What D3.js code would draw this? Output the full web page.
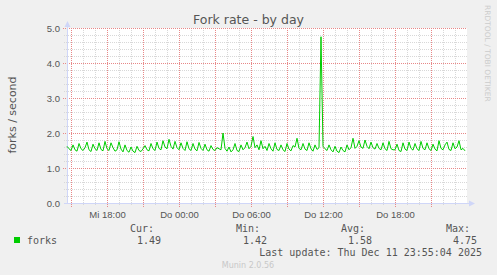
<!DOCTYPE html>
<html>
<head>
<meta charset="utf-8">
<script src="https://cdn.jsdelivr.net/npm/d3@7"></script>
<style>
  body { margin: 0; background: #f0f0f0; }
  svg { display: block; font-family: "DejaVu Sans", sans-serif; }
  .mono { font-family: "DejaVu Sans Mono", monospace; }
</style>
</head>
<body>
<div id="chart"></div>
<script>
// fork rate samples, one every 10 minutes starting Mi 14:40
const forks = [
  1.62, 1.55, 1.50, 1.66, 1.52, 1.48, 1.70, 1.55, 1.50, 1.58, 1.74, 1.52, 1.47, 1.68, 1.55, 1.50, 1.72, 1.53, 1.49, 1.76,
  1.55, 1.50, 1.72, 1.58, 1.48, 1.52, 1.75, 1.54, 1.46, 1.66, 1.50, 1.45, 1.60, 1.48, 1.44, 1.62, 1.50, 1.47, 1.55, 1.64,
  1.52, 1.49, 1.70, 1.55, 1.50, 1.74, 1.56, 1.52, 1.78, 1.60, 1.55, 1.82, 1.62, 1.54, 1.76, 1.58, 1.52, 1.72, 1.56, 1.50,
  1.75, 1.55, 1.50, 1.70, 1.54, 1.49, 1.73, 1.56, 1.50, 1.68, 1.52, 1.48, 1.64, 1.53, 1.50, 1.58, 1.55, 1.52, 2.00, 1.56,
  1.48, 1.60, 1.46, 1.52, 1.70, 1.50, 1.47, 1.66, 1.52, 1.58, 1.74, 1.55, 1.62, 1.90, 1.58, 1.66, 1.52, 1.78, 1.55, 1.62,
  1.50, 1.70, 1.55, 1.48, 1.72, 1.53, 1.50, 1.66, 1.52, 1.47, 1.70, 1.54, 1.49, 1.64, 1.60, 1.85, 1.56, 1.52, 1.70, 1.54,
  1.50, 1.72, 1.55, 1.48, 1.66, 1.53, 1.58, 4.75, 1.62, 1.55, 1.50, 1.66, 1.52, 1.46, 1.62, 1.48, 1.44, 1.60, 1.50, 1.46,
  1.66, 1.52, 1.58, 1.85, 1.56, 1.62, 1.78, 1.60, 1.56, 1.80, 1.62, 1.55, 1.74, 1.58, 1.54, 1.70, 1.56, 1.52, 1.72, 1.55,
  1.50, 1.76, 1.55, 1.52, 1.52, 1.68, 1.50, 1.47, 1.72, 1.54, 1.50, 1.74, 1.56, 1.51, 1.70, 1.55, 1.50, 1.76, 1.56, 1.52,
  1.72, 1.55, 1.50, 1.68, 1.54, 1.49, 1.78, 1.56, 1.52, 1.66, 1.74, 1.53, 1.50, 1.72, 1.55, 1.60, 1.78, 1.52, 1.56, 1.49
]
const yTicks = [0, 1, 2, 3, 4, 5]
const dayNames = ['So', 'Mo', 'Di', 'Mi', 'Do', 'Fr', 'Sa']
const legendHeads = ['Cur:', 'Min:', 'Avg:', 'Max:']
const legendValues = ['1.49', '1.42', '1.58', '4.75']
const lastUpdate = 'Last update: Thu Dec 11 23:55:04 2025'

const W = 497, H = 275
const start = new Date(Date.UTC(2025, 11, 10, 14, 40))
const end = new Date(Date.UTC(2025, 11, 12, 0, 0))
const step = 10 * 60 * 1000

const x = d3.scaleUtc().domain([start, end]).range([67, 467])
const y = d3.scaleLinear().domain([0, 5]).range([203, 28])

const svg = d3.select('#chart').append('svg')
  .attr('width', W).attr('height', H)

svg.append('rect').attr('width', W).attr('height', H).attr('fill', '#f0f0f0')
svg.append('rect')
  .attr('x', 67).attr('y', 28).attr('width', 400).attr('height', 175)
  .attr('fill', '#fff')

// minor grid
const minorY = d3.range(0, 5.01, 0.2).filter(v => Math.abs(v - Math.round(v)) > 0.01)
const hours = d3.utcHour.every(1).range(start, end)
const grid = svg.append('g').attr('shape-rendering', 'crispEdges')
grid.selectAll('.hm').data(hours.filter(d => d.getUTCHours() % 3 !== 0)).enter().append('line')
  .attr('x1', d => Math.round(x(d)) + 0.5).attr('x2', d => Math.round(x(d)) + 0.5)
  .attr('y1', 28).attr('y2', 206)
  .attr('stroke', '#d8d8d8').attr('stroke-dasharray', '1,1')
grid.selectAll('.vm').data(minorY).enter().append('line')
  .attr('x1', 64).attr('x2', 467)
  .attr('y1', d => Math.round(y(d)) + 0.5).attr('y2', d => Math.round(y(d)) + 0.5)
  .attr('stroke', '#d8d8d8').attr('stroke-dasharray', '1,1')

// major grid
grid.selectAll('.hM').data(hours.filter(d => d.getUTCHours() % 3 === 0)).enter().append('line')
  .attr('x1', d => Math.round(x(d)) + 0.5).attr('x2', d => Math.round(x(d)) + 0.5)
  .attr('y1', 28).attr('y2', 207)
  .attr('stroke', '#e88888').attr('stroke-dasharray', '1,1')
grid.selectAll('.vM').data(yTicks.slice(1)).enter().append('line')
  .attr('x1', 63).attr('x2', 467)
  .attr('y1', d => Math.round(y(d)) + 0.5).attr('y2', d => Math.round(y(d)) + 0.5)
  .attr('stroke', '#e88888').attr('stroke-dasharray', '1,1')

// axes
const xAxis = d3.axisBottom(x)
  .tickValues(d3.utcHour.every(6).range(start, end))
  .tickSize(0).tickPadding(8)
  .tickFormat(d => dayNames[d.getUTCDay()] + ' ' + d3.utcFormat('%H:%M')(d))
svg.append('g').attr('transform', 'translate(0,203)').call(xAxis)
  .call(g => g.select('.domain').remove())
  .selectAll('text').attr('fill', '#555').style('font-size', '9.5px')

const yAxis = d3.axisLeft(y).tickValues(yTicks).tickSize(0).tickPadding(7)
  .tickFormat(d3.format('.1f'))
svg.append('g').attr('transform', 'translate(67,0)').call(yAxis)
  .call(g => g.select('.domain').remove())
  .selectAll('text').attr('fill', '#555').style('font-size', '9.5px')

svg.append('line').attr('x1', 67.5).attr('x2', 67.5).attr('y1', 203).attr('y2', 24)
  .attr('stroke', '#cfd6f8')
svg.append('line').attr('x1', 64).attr('x2', 470).attr('y1', 203.5).attr('y2', 203.5)
  .attr('stroke', '#cfd6f8')
svg.append('path').attr('d', 'M64.5,27 L67.5,21 L70.5,27 Z').attr('fill', '#cfd6f8')
svg.append('path').attr('d', 'M469,200.5 L475,203.5 L469,206.5 Z').attr('fill', '#cfd6f8')

// series
const line = d3.line()
  .x((d, i) => x(new Date(start.getTime() + i * step)))
  .y(d => y(d))
svg.append('path').datum(forks)
  .attr('d', line)
  .attr('fill', 'none').attr('stroke', '#00cc00').attr('stroke-width', 1)

// titles
svg.append('text').attr('x', 248.5).attr('y', 24).attr('text-anchor', 'middle')
  .attr('fill', '#555').style('font-size', '12.5px').text('Fork rate - by day')
svg.append('text').attr('transform', 'translate(16,115) rotate(-90)')
  .attr('text-anchor', 'middle').attr('fill', '#555').style('font-size', '11px')
  .text('forks / second')
svg.append('text').attr('transform', 'translate(485,5) rotate(90)')
  .attr('fill', '#cccccc').style('font-size', '7.5px').text('RRDTOOL / TOBI OETIKER')

// legend
const legend = svg.append('g').attr('class', 'mono').style('font-size', '10px').attr('fill', '#555')
legend.append('rect').attr('x', 14).attr('y', 237).attr('width', 6).attr('height', 6).attr('fill', '#00cc00')
legend.append('text').attr('x', 27).attr('y', 243.5).text('forks')
const headX = [154, 260, 365, 470]
legend.selectAll('.head').data(legendHeads).enter().append('text')
  .attr('x', (d, i) => headX[i]).attr('y', 231.5).attr('text-anchor', 'end').text(d => d)
legend.selectAll('.val').data(legendValues).enter().append('text')
  .attr('x', (d, i) => headX[i] + 7).attr('y', 243.5).attr('text-anchor', 'end').text(d => d)
legend.append('text').attr('x', 482).attr('y', 255.5).attr('text-anchor', 'end').text(lastUpdate)

svg.append('text').attr('x', 248).attr('y', 268).attr('text-anchor', 'middle')
  .attr('fill', '#c8c8c8').style('font-size', '8px').text('Munin 2.0.56')
</script>
</body>
</html>
